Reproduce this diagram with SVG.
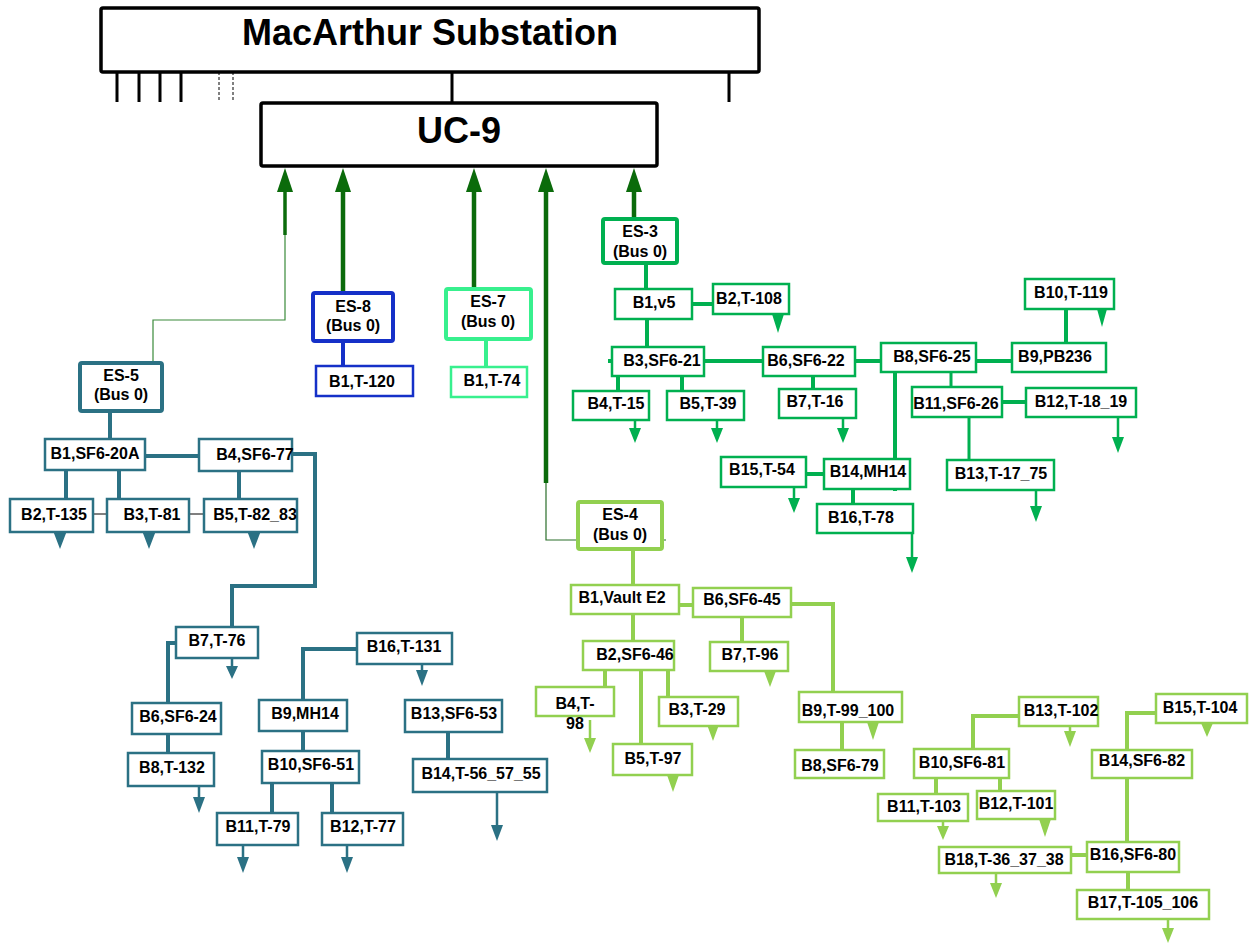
<svg xmlns="http://www.w3.org/2000/svg" width="1249" height="944" viewBox="0 0 1249 944">
<style>
text{font-family:"Liberation Sans",Arial,sans-serif;font-weight:bold;font-size:16px;text-anchor:middle;fill:#000}
.title{font-size:36px}
rect{fill:#fff;stroke-width:2.5}
.es{stroke-width:4}
.blk{stroke:#000;stroke-width:3.5}
.tl rect{stroke:#2b7184}
.bl rect{stroke:#1530c8}
.mt rect{stroke:#38f08e}
.gr rect{stroke:#00b050}
.lg rect{stroke:#92d050}
.ln{fill:none}
.ct{fill:none;stroke:#2b7184;stroke-width:4}
.cb{fill:none;stroke:#1530c8;stroke-width:4}
.cm{fill:none;stroke:#38f08e;stroke-width:4}
.cg{fill:none;stroke:#00b050;stroke-width:4}
.cl{fill:none;stroke:#92d050;stroke-width:4}
.cd{fill:none;stroke:#0b6b0b;stroke-width:4.5}
.sh{stroke-width:2.5}
.hd-t{fill:#2b7184}.hd-g{fill:#00b050}.hd-l{fill:#92d050}.hd-d{fill:#0b6b0b}
</style>

<g id="connectors">
  <!-- substation ticks -->
  <path class="ln" d="M117,72V102M139,72V102M160,72V102M181,72V102M729,72V102M452,72V103" style="stroke:#000;stroke-width:3"/>
  <path class="ln" d="M219,72V102M233,72V102" style="stroke:#000;stroke-width:1;stroke-dasharray:3,2"/>
  <!-- up arrows to UC-9 -->
  <path class="cd" d="M285,190V235" style="stroke-width:3.5"/>
  <path class="cd" d="M343,190V293M474,190V289M546,190V483M634,190V219"/>
  <polygon class="hd-d" points="277,192 293,192 285,168"/>
  <polygon class="hd-d" points="335,192 351,192 343,168"/>
  <polygon class="hd-d" points="466,192 482,192 474,168"/>
  <polygon class="hd-d" points="538,192 554,192 546,168"/>
  <polygon class="hd-d" points="626,192 642,192 634,168"/>
  <path class="ln" d="M285,235V320H153V363" style="stroke:#3a8a3a;stroke-width:1.2"/>
  <path class="ln" d="M546,483V540H578M662,540H666" style="stroke:#2a6e2a;stroke-width:1.2"/>

  <!-- ES-5 tree -->
  <path class="ct" d="M110,411V439M145,456H199M292,454H315V586H232V627M66,470V499M119,470V499M239,471V499M176,643H168V703M168,734V753M357,649H303V700M303,731V751M272,783V813M332,783V813M448,732V759"/>
  <path class="ln" d="M93,514H107M189,514H204" style="stroke:#000;stroke-width:1"/>
  <path class="ct sh" d="M232,658V667M199,783V798M422,664V671M243,842V858M347,845V858M497,792V826"/>
  <path class="hd-t" d="M53.5,532h13l-6.5,17zM142.5,532h13l-6.5,17zM247.5,532h13l-6.5,17zM226,666h12l-6,13zM193,797h12l-6,16zM416,670h12l-6,16zM237,857h12l-6,16zM341,857h12l-6,16zM491,825h12l-6,16z"/>

  <!-- ES-8 / ES-7 -->
  <path class="cb" d="M343,341V366"/>
  <path class="cm" d="M486,339V367"/>

  <!-- ES-3 tree -->
  <path class="cg" d="M646,263V289M692,304H713M647,319V347M704,361H763M855,361H881M976,361H1012M1066,309V343M618,376V391M682,376V391M813,376V389M1002,402H1026M895,372V491M806,474H824M853,489V504M608,361H612"/>
  <path class="cg" d="M951,372V387M969,417V460" style="stroke-width:3"/>
  <path class="cg sh" d="M635,420V429M717,420V429M843,418V429M1118,417V438M1036,490V507M794,487V499M912,533V558"/>
  <path class="hd-g" d="M772,314h12l-6,19zM629,428h12l-6,15zM711,428h12l-6,15zM837,428h12l-6,15zM1097,309h10l-5,18zM1112,437h12l-6,16zM1030,506h12l-6,16zM788,498h12l-6,15zM906,557h12l-6,16z"/>

  <!-- ES-4 tree -->
  <path class="cl" d="M633,549V585M679,605H693M791,604H833V692M742,617V642M633,614V641M605,670V687M641,670V744M668,670V697M842,722V750M1019,716H973V749M936,778V794M1000,778V791M1156,713H1127V750M1127,778V842M1087,855H1071M1128,872V890"/>
  <path class="cl sh" d="M590,720V739M1070,726V732M943,821V827M996,873V884M1168,919V929"/>
  <path class="hd-l" d="M764,671h12l-6,16zM584,738h12l-6,15zM667,775h12l-6,17zM707.5,726h11l-5.5,15zM867,722h12l-6,18zM1064,731h12l-6,16zM937,826h12l-6,14zM1039,819h12l-6,18zM1201,723h12l-6,14zM990,883h12l-6,15zM1162,928h12l-6,15z"/>
</g>

<!-- top -->
<g id="macarthur"><rect class="blk" x="101" y="8" width="658" height="64" rx="2"/><text class="title" x="430" y="45">MacArthur Substation</text></g>
<g id="uc9"><rect class="blk" x="261" y="103" width="396" height="63" rx="2"/><text class="title" x="459" y="143">UC-9</text></g>

<!-- ES-5 -->
<g class="tl">
<g id="es5"><rect class="es" x="80" y="363" width="82" height="48" rx="2"/><text x="121" y="381">ES-5</text><text x="121" y="400">(Bus 0)</text></g>
<g id="es5-b1"><rect x="45" y="439" width="100" height="31"/><text x="95" y="459">B1,SF6-20A</text></g>
<g id="es5-b4"><rect x="199" y="439" width="93" height="32"/><text x="255" y="460">B4,SF6-77</text></g>
<g id="es5-b2"><rect x="10" y="499" width="83" height="33"/><text x="54" y="520">B2,T-135</text></g>
<g id="es5-b3"><rect x="107" y="499" width="82" height="33"/><text x="152" y="520">B3,T-81</text></g>
<g id="es5-b5"><rect x="204" y="499" width="93" height="33"/><text x="255" y="520">B5,T-82_83</text></g>
<g id="es5-b7"><rect x="176" y="627" width="82" height="31"/><text x="217" y="646">B7,T-76</text></g>
<g id="es5-b6"><rect x="132" y="703" width="89" height="31"/><text x="178" y="722">B6,SF6-24</text></g>
<g id="es5-b8"><rect x="128" y="753" width="86" height="33"/><text x="172" y="773">B8,T-132</text></g>
<g id="es5-b16"><rect x="357" y="633" width="95" height="31"/><text x="404" y="652">B16,T-131</text></g>
<g id="es5-b9"><rect x="259" y="700" width="88" height="31"/><text x="305" y="719">B9,MH14</text></g>
<g id="es5-b10"><rect x="262" y="751" width="97" height="32"/><text x="311" y="770">B10,SF6-51</text></g>
<g id="es5-b11"><rect x="217" y="813" width="81" height="32"/><text x="258" y="832">B11,T-79</text></g>
<g id="es5-b12"><rect x="322" y="813" width="81" height="32"/><text x="363" y="832">B12,T-77</text></g>
<g id="es5-b13"><rect x="405" y="700" width="97" height="32"/><text x="454" y="719">B13,SF6-53</text></g>
<g id="es5-b14"><rect x="413" y="759" width="134" height="33"/><text x="481" y="779">B14,T-56_57_55</text></g>
</g>

<!-- ES-8 -->
<g class="bl">
<g id="es8"><rect class="es" x="313" y="293" width="80" height="48" rx="2"/><text x="353" y="312">ES-8</text><text x="353" y="331">(Bus 0)</text></g>
<g id="es8-b1"><rect x="316" y="366" width="97" height="30"/><text x="362" y="387">B1,T-120</text></g>
</g>

<!-- ES-7 -->
<g class="mt">
<g id="es7"><rect class="es" x="446" y="289" width="85" height="50" rx="2"/><text x="488" y="307">ES-7</text><text x="488" y="327">(Bus 0)</text></g>
<g id="es7-b1"><rect x="451" y="367" width="76" height="30"/><text x="492" y="386">B1,T-74</text></g>
</g>

<!-- ES-3 -->
<g class="gr">
<g id="es3"><rect class="es" x="603" y="219" width="74" height="44" rx="2"/><text x="640" y="237">ES-3</text><text x="640" y="257">(Bus 0)</text></g>
<g id="es3-b1"><rect x="615" y="289" width="77" height="30"/><text x="654" y="308">B1,v5</text></g>
<g id="es3-b2"><rect x="713" y="284" width="76" height="30"/><text x="749" y="304">B2,T-108</text></g>
<g id="es3-b3"><rect x="612" y="347" width="92" height="29"/><text x="662" y="366">B3,SF6-21</text></g>
<g id="es3-b6"><rect x="763" y="347" width="92" height="29"/><text x="806" y="366">B6,SF6-22</text></g>
<g id="es3-b8"><rect x="881" y="343" width="95" height="29"/><text x="932" y="362">B8,SF6-25</text></g>
<g id="es3-b9"><rect x="1012" y="343" width="94" height="29"/><text x="1055" y="362">B9,PB236</text></g>
<g id="es3-b10"><rect x="1025" y="279" width="89" height="30"/><text x="1071" y="298">B10,T-119</text></g>
<g id="es3-b4"><rect x="573" y="391" width="76" height="29"/><text x="616" y="409">B4,T-15</text></g>
<g id="es3-b5"><rect x="667" y="391" width="77" height="29"/><text x="708" y="409">B5,T-39</text></g>
<g id="es3-b7"><rect x="779" y="389" width="77" height="29"/><text x="815" y="407">B7,T-16</text></g>
<g id="es3-b11"><rect x="912" y="387" width="90" height="30"/><text x="956" y="409">B11,SF6-26</text></g>
<g id="es3-b12"><rect x="1026" y="388" width="110" height="29"/><text x="1081" y="407">B12,T-18_19</text></g>
<g id="es3-b13"><rect x="947" y="460" width="107" height="30"/><text x="1001" y="479">B13,T-17_75</text></g>
<g id="es3-b14"><rect x="824" y="459" width="86" height="30"/><text x="868" y="477">B14,MH14</text></g>
<g id="es3-b15"><rect x="721" y="457" width="85" height="30"/><text x="762" y="475">B15,T-54</text></g>
<g id="es3-b16"><rect x="817" y="504" width="96" height="29"/><text x="861" y="523">B16,T-78</text></g>
</g>

<!-- ES-4 -->
<g class="lg">
<g id="es4"><rect class="es" x="578" y="502" width="84" height="47" rx="2"/><text x="620" y="520">ES-4</text><text x="620" y="540">(Bus 0)</text></g>
<g id="es4-b1"><rect x="571" y="585" width="108" height="29"/><text x="622" y="603">B1,Vault E2</text></g>
<g id="es4-b6"><rect x="693" y="588" width="98" height="29"/><text x="742" y="605">B6,SF6-45</text></g>
<g id="es4-b2"><rect x="583" y="641" width="91" height="29"/><text x="635" y="660">B2,SF6-46</text></g>
<g id="es4-b7"><rect x="710" y="642" width="78" height="29"/><text x="750" y="660">B7,T-96</text></g>
<g id="es4-b4"><rect x="536" y="687" width="78" height="29"/><text x="575" y="709">B4,T-</text><text x="575" y="729">98</text></g>
<g id="es4-b3"><rect x="659" y="697" width="79" height="29"/><text x="697" y="715">B3,T-29</text></g>
<g id="es4-b5"><rect x="613" y="744" width="79" height="31"/><text x="653" y="764">B5,T-97</text></g>
<g id="es4-b9"><rect x="799" y="692" width="103" height="30"/><text x="848" y="716">B9,T-99_100</text></g>
<g id="es4-b8"><rect x="795" y="750" width="89" height="28"/><text x="840" y="771">B8,SF6-79</text></g>
<g id="es4-b13"><rect x="1019" y="697" width="79" height="29"/><text x="1061" y="716">B13,T-102</text></g>
<g id="es4-b10"><rect x="914" y="749" width="95" height="29"/><text x="962" y="768">B10,SF6-81</text></g>
<g id="es4-b11"><rect x="878" y="794" width="90" height="27"/><text x="924" y="812">B11,T-103</text></g>
<g id="es4-b12"><rect x="977" y="791" width="78" height="28"/><text x="1016" y="809">B12,T-101</text></g>
<g id="es4-b15"><rect x="1156" y="694" width="91" height="29"/><text x="1200" y="713">B15,T-104</text></g>
<g id="es4-b14"><rect x="1092" y="750" width="100" height="28"/><text x="1142" y="766">B14,SF6-82</text></g>
<g id="es4-b16"><rect x="1087" y="842" width="92" height="30"/><text x="1133" y="860">B16,SF6-80</text></g>
<g id="es4-b18"><rect x="939" y="847" width="132" height="26"/><text x="1004" y="865">B18,T-36_37_38</text></g>
<g id="es4-b17"><rect x="1077" y="890" width="132" height="29"/><text x="1143" y="908">B17,T-105_106</text></g>
</g>
</svg>
